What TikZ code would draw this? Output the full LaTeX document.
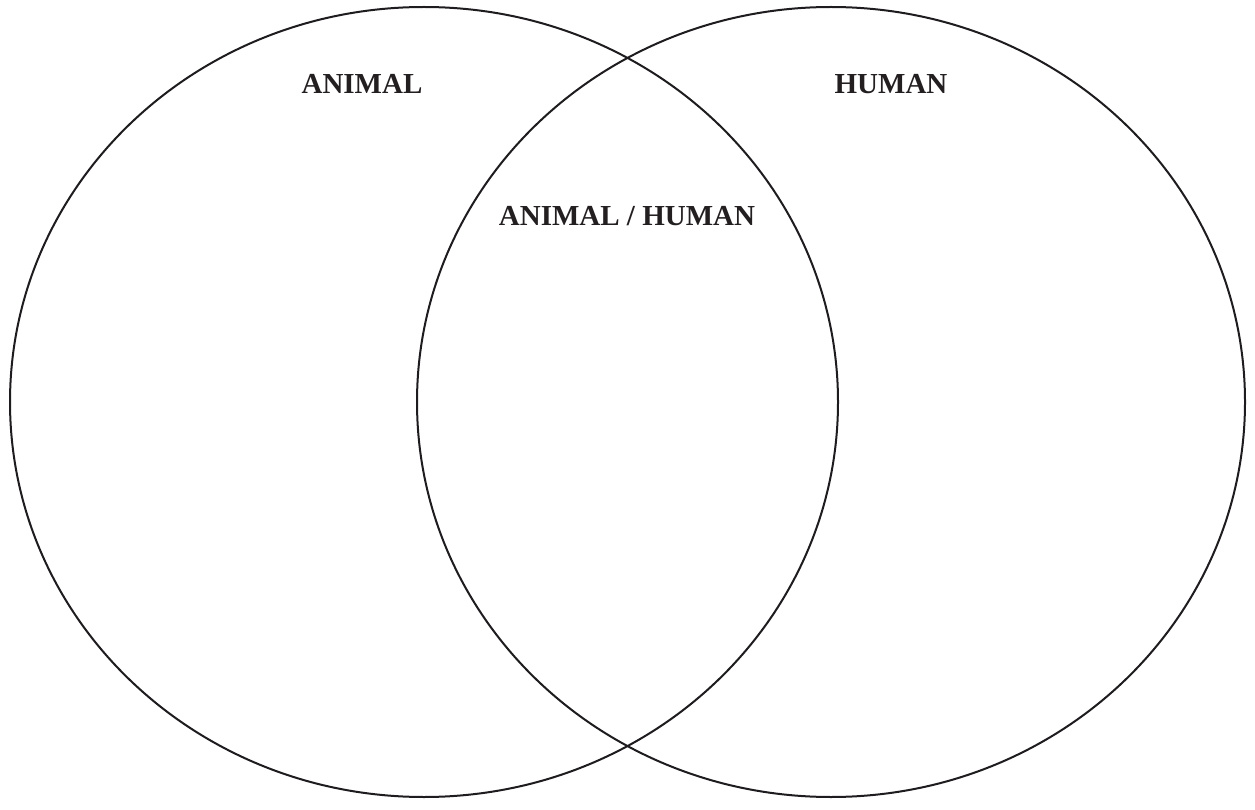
\documentclass[tikz,border=0pt]{standalone}
\usepackage{fontspec}
\setmainfont{Liberation Serif}
\begin{document}
\begin{tikzpicture}[x=1pt,y=-1pt,
  setline/.style={line width=2pt, draw={rgb,255:red,30;green,28;blue,30}},
  setlabel/.style={font=\fontsize{29}{34}\selectfont\bfseries, text={rgb,255:red,35;green,31;blue,32}, inner sep=0pt, anchor=base}]
\useasboundingbox (0,0) rectangle (1255,810);
\draw[setline] (424,402) ellipse [x radius=414, y radius=395];
\draw[setline] (831,402) ellipse [x radius=414, y radius=395];
\node[setlabel] (animal) at (362,94) {ANIMAL};
\node[setlabel] (human) at (891,94) {HUMAN};
\node[setlabel] (both) at (627,226) {ANIMAL / HUMAN};
\end{tikzpicture}
\end{document}
